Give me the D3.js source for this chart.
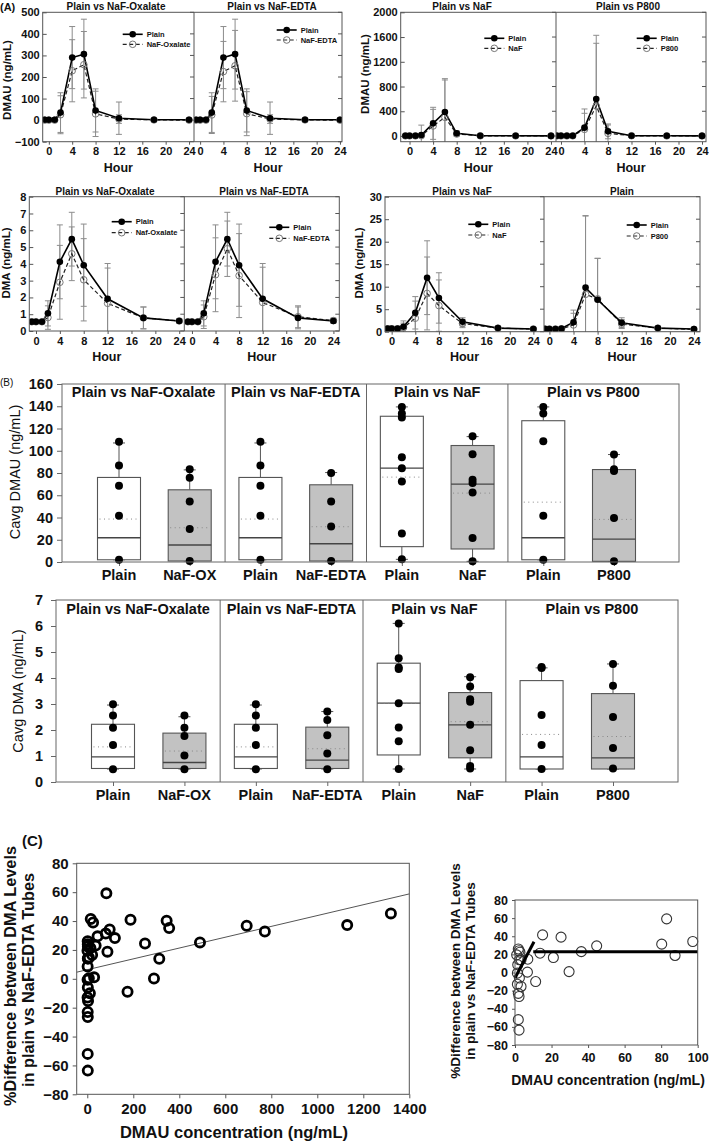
<!DOCTYPE html>
<html><head><meta charset="utf-8">
<script src="https://cdn.jsdelivr.net/npm/d3@7"></script>
<style>body{margin:0;background:#fff}svg{display:block}</style>
</head><body><svg id="c" width="709" height="1143"></svg>
<script>
// ---------------- DATA ----------------
const hours = [-0.7, 0, 1, 2, 4, 6, 8, 12, 18, 24];
const hourTicks = [0, 4, 8, 12, 16, 20, 24];

// Panel A – DMAU (ng/mL)
const dmauPlainOxEdta = [2, 2, 2, 35, 290, 306, 45, 9, 2, 2];
const dmauPlainOxEdtaSd = [3, 3, 3, 92, 144, 162, 100, 75, 5, 3];
const dmauOxalate = [0, 0, 0, 25, 229, 257, 29, 5, 1, 0];
const dmauOxalateSd = [2, 2, 2, 88, 144, 154, 105, 20, 3, 2];
const dmauEdta = [0, 0, 0, 24, 225, 252, 30, 5, 1, 0];
const dmauEdtaSd = [2, 2, 2, 86, 140, 164, 102, 20, 3, 2];
const dmauPlainNaF = [5, 5, 5, 16, 205, 388, 43, 5, 3, 2];
const dmauPlainNaFSd = [3, 3, 3, 160, 259, 539, 40, 8, 3, 2];
const dmauNaF = [2, 2, 2, 5, 162, 302, 32, 3, 2, 2];
const dmauNaFSd = [2, 2, 2, 20, 269, 604, 30, 5, 2, 2];
const dmauPlainP800 = [5, 5, 5, 5, 135, 598, 75, 5, 3, 2];
const dmauPlainP800Sd = [2, 2, 2, 5, 302, 1030, 120, 10, 3, 2];
const dmauP800 = [2, 2, 2, 3, 108, 485, 43, 4, 2, 2];
const dmauP800Sd = [2, 2, 2, 5, 259, 1014, 135, 8, 2, 2];

// Panel A – DMA (ng/mL)
const dmaPlainOxEdta = [0.55, 0.55, 0.55, 1.05, 4.12, 5.47, 3.92, 1.92, 0.78, 0.6];
const dmaPlainOxEdtaSd = [0.05, 0.05, 0.05, 0.75, 2.2, 1.6, 2.45, 2.1, 0.65, 0.12];
const dmaOxalate = [0.55, 0.55, 0.55, 0.8, 2.9, 4.6, 3.05, 1.65, 0.78, 0.6];
const dmaOxalateSd = [0.05, 0.05, 0.05, 0.7, 2.2, 1.6, 2.45, 2.1, 0.65, 0.1];
const dmaEdta = [0.55, 0.55, 0.55, 0.85, 3.35, 4.9, 3.3, 1.7, 0.85, 0.62];
const dmaEdtaSd = [0.05, 0.05, 0.05, 0.7, 2.2, 1.65, 2.5, 2.1, 0.65, 0.15];
const dmaPlainNaF = [0.7, 0.7, 0.7, 1.1, 4.2, 12.0, 7.5, 2.2, 0.8, 0.6];
const dmaPlainNaFSd = [0.5, 0.5, 0.5, 1.3, 3.6, 8.2, 5.6, 0.9, 0.3, 0.2];
const dmaNaF = [0.6, 0.6, 0.6, 0.9, 3.0, 8.5, 5.8, 1.8, 0.8, 0.6];
const dmaNaFSd = [0.4, 0.4, 0.4, 1.0, 3.8, 8.1, 5.7, 0.9, 0.3, 0.2];
const dmaPlainP800 = [0.6, 0.6, 0.6, 0.7, 2.1, 9.8, 7.1, 2.0, 0.8, 0.6];
const dmaPlainP800Sd = [0.2, 0.2, 0.2, 0.4, 2.7, 16, 9.2, 1.1, 0.3, 0.2];
const dmaP800 = [0.6, 0.6, 0.6, 0.6, 1.5, 8.3, 7.3, 1.7, 0.8, 0.5];
const dmaP800Sd = [0.2, 0.2, 0.2, 0.4, 2.6, 17.4, 9, 1.0, 0.3, 0.2];

// Panel B – box plots
const boxCats = ["Plain", "NaF-OX", "Plain", "NaF-EDTA", "Plain", "NaF", "Plain", "P800"];
const boxGroups = ["Plain vs NaF-Oxalate", "Plain vs NaF-EDTA", "Plain vs NaF", "Plain vs P800"];
const boxShaded = [false, true, false, true, false, true, false, true];

const cavgDmauQ1 = [2, 0.9, 2, 0.9, 13.8, 11.7, 2, 0.6];
const cavgDmauMedian = [21.8, 15.3, 21.8, 16.4, 84.3, 70, 21.8, 20.6];
const cavgDmauQ3 = [76, 64.9, 76, 69.4, 131, 104.7, 127, 83.1];
const cavgDmauLo = [2, 0.9, 2, 0.9, 2.4, 0.6, 2, 0.6];
const cavgDmauHi = [107, 82.8, 107, 80.4, 139.4, 112.7, 139.4, 96.6];
const cavgDmauMean = [38.6, 30.8, 38.6, 31.7, 76.3, 61.9, 53.8, 38.3];
const cavgDmauPoints = [
  [108, 86.7, 68.5, 41.6, 2], [83.4, 75.7, 54.4, 29.6, 0.9],
  [108, 86.7, 68.5, 41.6, 2], [80.1, 54.4, 32, 0.9],
  [139.4, 133.4, 130, 94.2, 84.3, 72.4, 25.7, 2.4], [113, 96.9, 73.9, 70.9, 62.5, 21.5, 0.6],
  [139.4, 133.4, 108.6, 41.6, 2], [96.6, 83.4, 81.9, 39.5, 0.6]
];

const cavgDmaQ1 = [0.52, 0.52, 0.52, 0.52, 1.04, 0.93, 0.5, 0.5];
const cavgDmaMedian = [0.97, 0.75, 0.97, 0.84, 3.03, 2.2, 0.97, 0.93];
const cavgDmaQ3 = [2.22, 1.88, 2.22, 2.11, 4.57, 3.44, 3.9, 3.4];
const cavgDmaLo = [0.5, 0.5, 0.5, 0.5, 0.5, 0.5, 0.5, 0.5];
const cavgDmaHi = [2.96, 2.51, 2.96, 2.71, 6.1, 4.05, 4.39, 4.54];
const cavgDmaMean = [1.35, 1.19, 1.35, 1.28, 3.03, 2.32, 1.83, 1.75];
const cavgDmaPoints = [
  [2.99, 2.56, 2.09, 1.42, 0.49], [2.56, 2.09, 1.77, 1.02, 0.49],
  [2.99, 2.56, 2.09, 1.42, 0.49], [2.71, 2.38, 1.8, 1.1, 0.49],
  [6.1, 4.76, 4.4, 4.35, 3.03, 2.1, 1.57, 0.5], [4.03, 3.67, 3.18, 3.09, 2.2, 1.22, 0.62, 0.52],
  [4.42, 4.38, 2.58, 1.42, 0.5], [4.54, 3.7, 2.5, 1.31, 0.52]
];

// Panel C – % difference vs DMAU concentration
const diffDmau = [1.8, 2.2, 2.7, 0.9, 2.4, 3.3, 1.5, 1.3, 2.4, 1.3, 3.3, 1.8, 2.2, 1.8, 2.2,
  13.7, 15.1, 11.3, 6.8, 7.0, 21, 25.2, 29.6, 36.3, 44.7, 80.3, 83, 87.6, 97.3,
  120, 188, 175, 251, 290, 313, 345, 356, 490, 693, 772, 1130, 1320];
const diffPct = [26, 24, 22.4, 19.5, 14, 14, 8.5, -0.7, -6, -13, -15.4, -23, -26.5, -52, -63.6,
  21.3, 41.5, -10, 0.4, 14.7, 16.5, 39, 1, 23, 29.4, 31.3, 59.2, 18.8, 34.2,
  28.2, 40.9, -9, 24.5, 0.2, 13.9, 40.2, 35.1, 25.2, 36.7, 32.8, 37.2, 45.3];
const regIntercept = 6.3, regSlope = 0.0375;
const segRiseX = [0, 10.4], segRiseY = [-6, 34];
const segFlatX = [10, 100], segFlatY = [23, 23];
const cXTicks = [0, 200, 400, 600, 800, 1000, 1200, 1400];
const cInsetXTicks = [0, 20, 40, 60, 80, 100];
const cYTicks = [-80, -60, -40, -20, 0, 20, 40, 60, 80];

// ---------------- DRAWING ----------------
const FONT = '"Liberation Sans", Arial, Helvetica, sans-serif';
const svg = d3.select("#c").attr("font-family", FONT);
const fmt = d3.format("d");

function txt(g, x, y, s, size, weight, anchor, rot) {
  const t = g.append("text").attr("font-size", size).attr("font-weight", weight || "normal")
    .attr("text-anchor", anchor || "middle").attr("fill", "#111").text(s);
  if (rot) t.attr("transform", `translate(${x},${y}) rotate(-90)`).attr("dy", "0.35em");
  else t.attr("x", x).attr("y", y);
  return t;
}
function styleAxis(g, size, weight, color) {
  g.attr("font-family", FONT).attr("font-size", size).attr("font-weight", weight);
  g.select(".domain").remove();
  g.selectAll(".tick line").attr("stroke", color || "#555");
  g.selectAll(".tick text").attr("fill", "#111");
}

function pkChart(o) {
  const g = svg.append("g");
  const y = d3.scaleLinear().domain(o.yDomain).range([o.bottom, o.top]);
  const xs = [
    d3.scaleLinear().domain(o.xDom[0]).range([o.left, o.mid]),
    d3.scaleLinear().domain(o.xDom[1]).range([o.mid, o.right])
  ];
  const ya = g.append("g").attr("transform", `translate(${o.left},0)`)
    .call(d3.axisLeft(y).tickValues(o.yTicks).tickFormat(fmt).tickSize(-4).tickPadding(3));
  styleAxis(ya, 11, "bold");
  o.yTicks.forEach(t => {
    [o.mid, o.right].forEach(xx => g.append("line").attr("x1", xx - 4).attr("x2", xx)
      .attr("y1", y(t)).attr("y2", y(t)).attr("stroke", "#555"));
  });
  o.panels.forEach((p, i) => {
    const x = xs[i];
    const [r0, r1] = x.range();
    const clipId = `clip${o.id}${i}`;
    g.append("clipPath").attr("id", clipId).append("rect")
      .attr("x", r0).attr("y", o.top).attr("width", r1 - r0).attr("height", o.bottom - o.top);
    const xa = g.append("g").attr("transform", `translate(0,${o.bottom})`)
      .call(d3.axisBottom(x).tickValues(hourTicks).tickFormat(fmt).tickSize(3).tickPadding(3));
    styleAxis(xa, 11, "bold");
    txt(g, p.titleX, o.titleY, p.title, 10, "bold");
    txt(g, (r0 + r1) / 2, o.hourY, "Hour", 12.5, "bold");
    const pg = g.append("g").attr("clip-path", `url(#${clipId})`);
    [[p.test, p.testSd], [p.ref, p.refSd]].forEach(([m, sd]) => {
      hours.forEach((h, k) => {
        const cx = x(h), y1 = y(m[k] + sd[k]), y2 = y(m[k] - sd[k]);
        pg.append("line").attr("x1", cx).attr("x2", cx).attr("y1", y1).attr("y2", y2)
          .attr("stroke", "#8c8c8c").attr("stroke-width", 1);
        [y1, y2].forEach(yy => pg.append("line").attr("x1", cx - 3).attr("x2", cx + 3)
          .attr("y1", yy).attr("y2", yy).attr("stroke", "#8c8c8c"));
      });
    });
    const line = d3.line().x((d, k) => x(hours[k])).y(d => y(d));
    pg.append("path").attr("d", line(p.test)).attr("fill", "none").attr("stroke", "#222")
      .attr("stroke-width", 1.2).attr("stroke-dasharray", "4,2.5");
    pg.append("path").attr("d", line(p.ref)).attr("fill", "none").attr("stroke", "#000")
      .attr("stroke-width", 1.6);
    p.test.forEach((v, k) => pg.append("circle").attr("cx", x(hours[k])).attr("cy", y(v))
      .attr("r", 3.3).attr("fill", "none").attr("stroke", "#777").attr("stroke-width", 1));
    p.ref.forEach((v, k) => pg.append("circle").attr("cx", x(hours[k])).attr("cy", y(v))
      .attr("r", 3.3).attr("fill", "#000"));
    // legend
    const L = p.legend;
    g.append("line").attr("x1", L.x).attr("x2", L.x + 20).attr("y1", L.y1).attr("y2", L.y1)
      .attr("stroke", "#000").attr("stroke-width", 1.6);
    g.append("circle").attr("cx", L.x + 10).attr("cy", L.y1).attr("r", 3.3).attr("fill", "#000");
    g.append("line").attr("x1", L.x).attr("x2", L.x + 20).attr("y1", L.y2).attr("y2", L.y2)
      .attr("stroke", "#222").attr("stroke-width", 1.2).attr("stroke-dasharray", "4,2.5");
    g.append("circle").attr("cx", L.x + 10).attr("cy", L.y2).attr("r", 3.3)
      .attr("fill", "none").attr("stroke", "#777");
    txt(g, L.x + 24, L.y1 + 2.7, "Plain", 7.5, "bold", "start");
    txt(g, L.x + 24, L.y2 + 2.7, p.testLabel, 7.5, "bold", "start");
  });
  g.append("rect").attr("x", o.left).attr("y", o.top).attr("width", o.right - o.left)
    .attr("height", o.bottom - o.top).attr("fill", "none").attr("stroke", "#555");
  g.append("line").attr("x1", o.mid).attr("x2", o.mid).attr("y1", o.top).attr("y2", o.bottom)
    .attr("stroke", "#555");
  txt(g, o.ylabX, o.ylabY, o.ylabel, 11.5, "bold", "middle", true);
}

pkChart({
  id: "a1", left: 42.7, mid: 194, right: 342, top: 12.3, bottom: 141.7,
  yDomain: [-100, 500], yTicks: [-100, 0, 100, 200, 300, 400, 500],
  xDom: [[-1.05, 24.85], [-1.05, 24.35]], titleY: 9.5, hourY: 171.5,
  ylabel: "DMAU (ng/mL)", ylabX: 7, ylabY: 80,
  panels: [
    { title: "Plain vs NaF-Oxalate", titleX: 116, ref: dmauPlainOxEdta, refSd: dmauPlainOxEdtaSd,
      test: dmauOxalate, testSd: dmauOxalateSd, testLabel: "NaF-Oxalate", legend: { x: 122.7, y1: 34.3, y2: 44.3 } },
    { title: "Plain vs NaF-EDTA", titleX: 272, ref: dmauPlainOxEdta, refSd: dmauPlainOxEdtaSd,
      test: dmauEdta, testSd: dmauEdtaSd, testLabel: "NaF-EDTA", legend: { x: 276.7, y1: 30, y2: 40 } }
  ]
});
pkChart({
  id: "a2", left: 400.7, mid: 556, right: 706, top: 12.3, bottom: 141.7,
  yDomain: [-92, 2000], yTicks: [0, 400, 800, 1200, 1600, 2000],
  xDom: [[-1.5, 24.85], [-0.85, 24.68]], titleY: 9.5, hourY: 171.5,
  ylabel: "DMAU (ng/mL)", ylabX: 365, ylabY: 74,
  panels: [
    { title: "Plain vs NaF", titleX: 462, ref: dmauPlainNaF, refSd: dmauPlainNaFSd,
      test: dmauNaF, testSd: dmauNaFSd, testLabel: "NaF", legend: { x: 484.3, y1: 38.3, y2: 48.3 } },
    { title: "Plain vs P800", titleX: 628, ref: dmauPlainP800, refSd: dmauPlainP800Sd,
      test: dmauP800, testSd: dmauP800Sd, testLabel: "P800", legend: { x: 636.7, y1: 38.3, y2: 48.3 } }
  ]
});
pkChart({
  id: "a3", left: 29.3, mid: 184.3, right: 339.3, top: 196.7, bottom: 331,
  yDomain: [0, 8], yTicks: [0, 1, 2, 3, 4, 5, 6, 7, 8],
  xDom: [[-1.12, 24.85], [-1.3, 25.0]], titleY: 194.5, hourY: 361,
  ylabel: "DMA (ng/mL)", ylabX: 6, ylabY: 263,
  panels: [
    { title: "Plain vs NaF-Oxalate", titleX: 105, ref: dmaPlainOxEdta, refSd: dmaPlainOxEdtaSd,
      test: dmaOxalate, testSd: dmaOxalateSd, testLabel: "Naf-Oxalate", legend: { x: 111.7, y1: 221.7, y2: 232.7 } },
    { title: "Plain vs NaF-EDTA", titleX: 264, ref: dmaPlainOxEdta, refSd: dmaPlainOxEdtaSd,
      test: dmaEdta, testSd: dmaEdtaSd, testLabel: "NaF-EDTA", legend: { x: 269.3, y1: 227.3, y2: 238.3 } }
  ]
});
pkChart({
  id: "a4", left: 385, mid: 544, right: 700, top: 196.7, bottom: 331.7,
  yDomain: [0, 30], yTicks: [0, 5, 10, 15, 20, 25, 30],
  xDom: [[-1.13, 25.8], [-0.9, 25.0]], titleY: 194.5, hourY: 361,
  ylabel: "DMA (ng/mL)", ylabX: 359, ylabY: 263,
  panels: [
    { title: "Plain vs NaF", titleX: 462, ref: dmaPlainNaF, refSd: dmaPlainNaFSd,
      test: dmaNaF, testSd: dmaNaFSd, testLabel: "NaF", legend: { x: 468.3, y1: 224.3, y2: 235 } },
    { title: "Plain", titleX: 622, ref: dmaPlainP800, refSd: dmaPlainP800Sd,
      test: dmaP800, testSd: dmaP800Sd, testLabel: "P800", legend: { x: 626.7, y1: 225, y2: 236 } }
  ]
});
txt(svg, 0, 11, "(A)", 11, "bold", "start");

// ---- Panel B ----
function boxChart(o) {
  const g = svg.append("g");
  const y = d3.scaleLinear().domain(o.yDomain).range([o.bottom, o.top]);
  const x = d3.scalePoint().domain(d3.range(boxCats.length)).range(o.xRange);
  const ya = g.append("g").attr("transform", `translate(${o.left},0)`)
    .call(d3.axisLeft(y).tickValues(o.yTicks).tickFormat(fmt).tickSize(5).tickPadding(o.yPad));
  styleAxis(ya, 14.5, "bold", "#666");
  const xa = g.append("g").attr("transform", `translate(0,${o.bottom})`)
    .call(d3.axisBottom(x).tickSize(4).tickFormat(""));
  styleAxis(xa, 14.5, "bold", "#666");
  boxCats.forEach((c, i) => txt(g, x(i), o.catY, c, 14.5, "bold"));
  const edges = [o.left, (x(1) + x(2)) / 2, (x(3) + x(4)) / 2, (x(5) + x(6)) / 2, o.right];
  boxGroups.forEach((t, gi) => {
    txt(g, (edges[gi] + edges[gi + 1]) / 2, o.titleY, t, 14.5, "bold");
    if (gi > 0) g.append("line").attr("x1", edges[gi]).attr("x2", edges[gi])
      .attr("y1", o.top).attr("y2", o.bottom).attr("stroke", "#666");
  });
  const bw = 43, cw = 12;
  boxCats.forEach((c, i) => {
    const cx = x(i);
    const st = "#555";
    g.append("line").attr("x1", cx).attr("x2", cx).attr("y1", y(o.q3[i])).attr("y2", y(o.hi[i])).attr("stroke", st);
    g.append("line").attr("x1", cx).attr("x2", cx).attr("y1", y(o.q1[i])).attr("y2", y(o.lo[i])).attr("stroke", st);
    [o.hi[i], o.lo[i]].forEach(v => g.append("line").attr("x1", cx - cw / 2).attr("x2", cx + cw / 2)
      .attr("y1", y(v)).attr("y2", y(v)).attr("stroke", st));
    g.append("rect").attr("x", cx - bw / 2).attr("width", bw).attr("y", y(o.q3[i]))
      .attr("height", y(o.q1[i]) - y(o.q3[i]))
      .attr("fill", boxShaded[i] ? "#c2c2c2" : "#fff").attr("stroke", st).attr("stroke-width", 1.1);
    g.append("line").attr("x1", cx - bw / 2).attr("x2", cx + bw / 2).attr("y1", y(o.median[i]))
      .attr("y2", y(o.median[i])).attr("stroke", "#444").attr("stroke-width", 1.3);
    g.append("line").attr("x1", cx - bw / 2 + 2).attr("x2", cx + bw / 2 - 2).attr("y1", y(o.mean[i]))
      .attr("y2", y(o.mean[i])).attr("stroke", "#888").attr("stroke-width", 1).attr("stroke-dasharray", "1,3.5");
    o.points[i].forEach(v => g.append("circle").attr("cx", cx).attr("cy", y(v)).attr("r", 4).attr("fill", "#000"));
  });
  g.append("rect").attr("x", o.left).attr("y", o.top).attr("width", o.right - o.left)
    .attr("height", o.bottom - o.top).attr("fill", "none").attr("stroke", "#666");
  txt(g, o.ylabX, o.ylabY, o.ylabel, 14.5, "normal", "middle", true);
}
boxChart({
  left: 62, right: 679, top: 384, bottom: 562, yDomain: [0, 160],
  yTicks: [0, 20, 40, 60, 80, 100, 120, 140, 160], yPad: 4, xRange: [119, 614],
  titleY: 397, catY: 580, ylabel: "Cavg DMAU (ng/mL)", ylabX: 15, ylabY: 472,
  q1: cavgDmauQ1, median: cavgDmauMedian, q3: cavgDmauQ3, lo: cavgDmauLo, hi: cavgDmauHi,
  mean: cavgDmauMean, points: cavgDmauPoints
});
boxChart({
  left: 56, right: 678, top: 600, bottom: 782, yDomain: [0, 7],
  yTicks: [0, 1, 2, 3, 4, 5, 6, 7], yPad: 8, xRange: [113, 613],
  titleY: 614, catY: 800, ylabel: "Cavg DMA (ng/mL)", ylabX: 18, ylabY: 691,
  q1: cavgDmaQ1, median: cavgDmaMedian, q3: cavgDmaQ3, lo: cavgDmaLo, hi: cavgDmaHi,
  mean: cavgDmaMean, points: cavgDmaPoints
});
txt(svg, 0, 386, "(B)", 10, "normal", "start");

// ---- Panel C ----
(function () {
  const g = svg.append("g");
  const L = 76.7, R = 409.3, T = 863.3, B = 1094.3;
  const x = d3.scaleLinear().domain([-46, 1400]).range([L, R]);
  const y = d3.scaleLinear().domain([-80, 80]).range([B, T]);
  const ya = g.append("g").attr("transform", `translate(${L},0)`)
    .call(d3.axisLeft(y).tickValues(cYTicks).tickFormat(fmt).tickSize(4).tickPadding(4));
  styleAxis(ya, 15, "bold", "#555");
  const xa = g.append("g").attr("transform", `translate(0,${B})`)
    .call(d3.axisBottom(x).tickValues(cXTicks).tickFormat(fmt).tickSize(4).tickPadding(5));
  styleAxis(xa, 15, "bold", "#555");
  const xd = x.domain();
  g.append("line").attr("x1", x(xd[0])).attr("x2", x(xd[1]))
    .attr("y1", y(regIntercept + regSlope * xd[0])).attr("y2", y(regIntercept + regSlope * xd[1]))
    .attr("stroke", "#555").attr("stroke-width", 1);
  diffDmau.forEach((v, i) => g.append("circle").attr("cx", x(v)).attr("cy", y(diffPct[i]))
    .attr("r", 4.6).attr("fill", "none").attr("stroke", "#000").attr("stroke-width", 2.8));
  g.append("rect").attr("x", L).attr("y", T).attr("width", R - L).attr("height", B - T)
    .attr("fill", "none").attr("stroke", "#555");
  txt(g, 234, 1138, "DMAU concentration (ng/mL)", 16.5, "bold");
  txt(g, 10, 976, "%Difference between DMA Levels", 16.3, "bold", "middle", true);
  txt(g, 28, 980, "in plain vs NaF-EDTA Tubes", 16.3, "bold", "middle", true);

  // inset
  const L2 = 515, R2 = 697.7, T2 = 900, B2 = 1045;
  const x2 = d3.scaleLinear().domain([0, 100]).range([L2, R2]);
  const y2 = d3.scaleLinear().domain([-80, 80]).range([B2, T2]);
  const ya2 = g.append("g").attr("transform", `translate(${L2},0)`)
    .call(d3.axisLeft(y2).tickValues(cYTicks).tickFormat(fmt).tickSize(3).tickPadding(4));
  styleAxis(ya2, 12.5, "bold", "#555");
  const xa2 = g.append("g").attr("transform", `translate(0,${B2})`)
    .call(d3.axisBottom(x2).tickValues(cInsetXTicks).tickFormat(fmt).tickSize(3).tickPadding(5));
  styleAxis(xa2, 12.5, "bold", "#555");
  diffDmau.forEach((v, i) => { if (v <= 100) g.append("circle").attr("cx", x2(v)).attr("cy", y2(diffPct[i]))
    .attr("r", 5).attr("fill", "none").attr("stroke", "#333").attr("stroke-width", 1.1); });
  const ln = d3.line().x(d => x2(d[0])).y(d => y2(d[1]));
  g.append("path").attr("d", ln(segRiseX.map((v, i) => [v, segRiseY[i]]))).attr("stroke", "#000")
    .attr("stroke-width", 3).attr("fill", "none");
  g.append("path").attr("d", ln(segFlatX.map((v, i) => [v, segFlatY[i]]))).attr("stroke", "#000")
    .attr("stroke-width", 3).attr("fill", "none");
  g.append("rect").attr("x", L2).attr("y", T2).attr("width", R2 - L2).attr("height", B2 - T2)
    .attr("fill", "none").attr("stroke", "#555");
  txt(g, 608, 1085, "DMAU concentration (ng/mL)", 14, "bold");
  txt(g, 455, 971, "%Difference between DMA Levels", 13.5, "bold", "middle", true);
  txt(g, 470, 971, "in plain vs NaF-EDTA Tubes", 13.5, "bold", "middle", true);
})();
txt(svg, 22, 846, "(C)", 15, "bold", "start");
</script></body></html>
